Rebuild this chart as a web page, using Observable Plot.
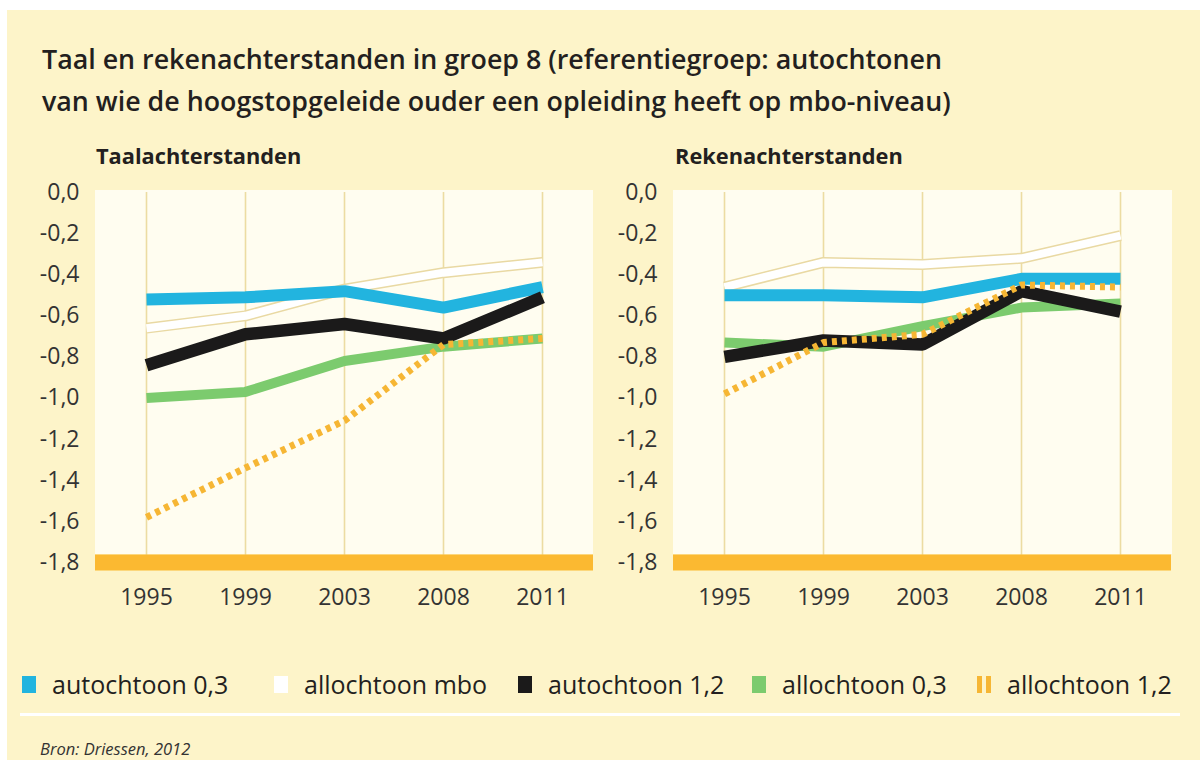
<!DOCTYPE html>
<html>
<head>
<meta charset="utf-8">
<script src="https://cdn.jsdelivr.net/npm/d3@7"></script>
<script src="https://cdn.jsdelivr.net/npm/@observablehq/plot@0.6"></script>
<style>
  html, body { margin: 0; padding: 0; background: #ffffff; width: 1200px; height: 760px; overflow: hidden; }
  #page { position: absolute; left: 7px; top: 10px; width: 1193px; height: 750px; background: #fdf4c9; }
  .abs { position: absolute; }
  #title { left: 42px; top: 38px; font-family: "Open Sans", sans-serif; font-weight: 600; font-size: 26.8px; line-height: 42px; color: #231f20; white-space: nowrap; }
  .ptitle { font-family: "Open Sans", sans-serif; font-weight: 700; font-size: 21.8px; color: #231f20; white-space: nowrap; }
  .pbg { background: #fffdf0; }
  #legend { left: 0px; top: 666px; width: 1200px; height: 36px; font-family: "Open Sans", sans-serif; font-size: 25px; color: #231f20; white-space: nowrap; }
  .item { position: absolute; top: 0; display: flex; align-items: center; height: 36px; }
  .sw { width: 14px; height: 17px; margin-right: 16px; }
  #sep { left: 20px; top: 713px; width: 1160px; height: 3px; background: #ffffff; }
  #bron { left: 40px; top: 740px; font-family: "Open Sans", sans-serif; font-style: italic; font-size: 16.5px; line-height: 18px; color: #333; white-space: nowrap; }
</style>
</head>
<body>
<div id="page"></div>
<div id="title" class="abs">Taal en rekenachterstanden in groep 8 (referentiegroep: autochtonen<br>van wie de hoogstopgeleide ouder een opleiding heeft op mbo-niveau)</div>
<div class="abs ptitle" style="left:96px; top:141px;">Taalachterstanden</div>
<div class="abs ptitle" style="left:675px; top:141px;">Rekenachterstanden</div>
<div class="abs pbg" style="left:95px; top:190px; width:498px; height:364px;"></div>
<div class="abs pbg" style="left:673px; top:190px; width:499px; height:364px;"></div>
<div id="left" class="abs" style="left:0px; top:170px;"></div>
<div id="right" class="abs" style="left:578px; top:170px;"></div>
<div id="legend" class="abs"></div>
<div id="sep" class="abs"></div>
<div id="bron" class="abs">Bron: Driessen, 2012</div>
<script>
// ---- data ----
const years = ["1995", "1999", "2003", "2008", "2011"];
const seriesNames = ["autochtoon 0,3", "allochtoon mbo", "autochtoon 1,2", "allochtoon 0,3", "allochtoon 1,2"];
const yTicks = [0, -0.2, -0.4, -0.6, -0.8, -1.0, -1.2, -1.4, -1.6, -1.8];

// Taalachterstanden
const taalAutochtoon03 = [-0.52, -0.51, -0.48, -0.56, -0.46];
const taalAllochtoonMbo = [-0.66, -0.60, -0.47, -0.39, -0.34];
const taalAutochtoon12 = [-0.84, -0.69, -0.64, -0.71, -0.51];
const taalAllochtoon03 = [-1.00, -0.97, -0.82, -0.75, -0.71];
const taalAllochtoon12 = [-1.58, -1.34, -1.11, -0.74, -0.71];

// Rekenachterstanden
const rekenAutochtoon03 = [-0.50, -0.50, -0.51, -0.42, -0.42];
const rekenAllochtoonMbo = [-0.46, -0.34, -0.35, -0.32, -0.21];
const rekenAutochtoon12 = [-0.80, -0.72, -0.74, -0.48, -0.58];
const rekenAllochtoon03 = [-0.73, -0.75, -0.65, -0.56, -0.54];
const rekenAllochtoon12 = [-0.98, -0.73, -0.69, -0.45, -0.46];

// ---- styles ----
const colors = {
  "autochtoon 0,3": "#22b4df",
  "allochtoon mbo": "#ffffff",
  "autochtoon 1,2": "#1b1a1a",
  "allochtoon 0,3": "#7ccb6e",
  "allochtoon 1,2": "#f6b634"
};
const legendLeft = [22, 274, 518, 752, 977];
const gridColor = "#ecdca2";
const barColor = "#fbb931";

function rows(values) {
  return years.map((y, i) => ({ year: y, value: values[i] }));
}

function panel(sets) {
  const [a03, mbo, a12, al03, al12] = sets.map(rows);
  const lineOpts = { x: "year", y: "value", strokeLinecap: "butt", strokeLinejoin: "miter" };
  return Plot.plot({
    width: 600,
    height: 460,
    marginLeft: 95,
    marginRight: 7,
    marginTop: 22,
    marginBottom: 68,
    style: { background: "transparent", fontFamily: "'Open Sans', sans-serif", fontSize: "23px", color: "#333" },
    x: { type: "point", domain: years, padding: 0.5, label: null, tickSize: 0, tickPadding: 26 },
    y: { domain: [-1.8, 0], ticks: yTicks, tickFormat: d => d.toFixed(1).replace(".", ","), label: null, tickSize: 0, tickPadding: 16 },
    marks: [
      Plot.ruleX(years, { stroke: gridColor, strokeWidth: 1.6 }),
      Plot.ruleY([yTicks[yTicks.length - 1]], { stroke: barColor, strokeWidth: 16 }),
      Plot.line(mbo, { ...lineOpts, stroke: "#e9d9a3", strokeWidth: 11 }),
      Plot.line(mbo, { ...lineOpts, stroke: colors["allochtoon mbo"], strokeWidth: 8 }),
      Plot.line(al03, { ...lineOpts, stroke: colors["allochtoon 0,3"], strokeWidth: 10 }),
      Plot.line(a03, { ...lineOpts, stroke: colors["autochtoon 0,3"], strokeWidth: 12 }),
      Plot.line(a12, { ...lineOpts, stroke: colors["autochtoon 1,2"], strokeWidth: 12.5 }),
      Plot.line(al12, { ...lineOpts, stroke: colors["allochtoon 1,2"], strokeWidth: 7, strokeDasharray: "5,5" })
    ]
  });
}

document.getElementById("left").appendChild(panel([taalAutochtoon03, taalAllochtoonMbo, taalAutochtoon12, taalAllochtoon03, taalAllochtoon12]));
document.getElementById("right").appendChild(panel([rekenAutochtoon03, rekenAllochtoonMbo, rekenAutochtoon12, rekenAllochtoon03, rekenAllochtoon12]));

// legend
const legend = document.getElementById("legend");
seriesNames.forEach((name, i) => {
  const item = document.createElement("div");
  item.className = "item";
  item.style.left = legendLeft[i] + "px";
  const sw = document.createElement("div");
  sw.className = "sw";
  if (name === "allochtoon 1,2") {
    sw.style.background = `repeating-linear-gradient(90deg, ${colors[name]} 0 5px, transparent 5px 9px)`;
  } else {
    sw.style.background = colors[name];
  }
  const t = document.createElement("span");
  t.textContent = name;
  item.appendChild(sw);
  item.appendChild(t);
  legend.appendChild(item);
});
</script>
</body>
</html>
